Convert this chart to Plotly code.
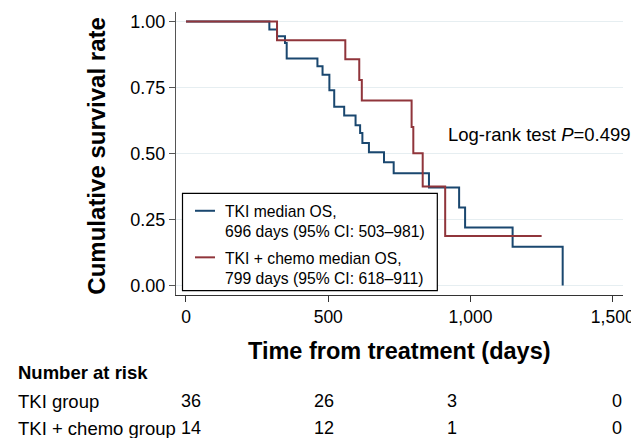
import plotly.graph_objects as go

# Kaplan-Meier step data
tki_days = [0, 293, 320, 348, 354, 462, 480, 504, 521, 556, 596, 612, 620, 643, 696, 730, 854, 960, 981, 1148, 1324]
tki_surv = [1.0, 0.970, 0.944, 0.919, 0.860, 0.831, 0.799, 0.740, 0.677, 0.644, 0.607, 0.578, 0.540, 0.505, 0.467, 0.425, 0.371, 0.296, 0.220, 0.147, 0.0]

chemo_days = [0, 320, 560, 609, 618, 793, 799, 832, 911, 1250]
chemo_surv = [1.0, 0.929, 0.857, 0.779, 0.701, 0.601, 0.501, 0.375, 0.1875, 0.1875]

x_ticks = [0, 500, 1000, 1500]
y_ticks = [0.0, 0.25, 0.5, 0.75, 1.0]

risk_times = [0, 500, 1000, 1500]
risk_tki = [36, 26, 3, 0]
risk_chemo = [14, 12, 1, 0]
risk_xshift = [5, -4.5, -19, 4]

legend_tki = "TKI median OS,<br>696 days (95% CI: 503\u2013981)"
legend_chemo = "TKI + chemo median OS,<br>799 days (95% CI: 618\u2013911)"

BLUE = "#1a476f"
RED = "#90353b"
FONT = "Liberation Sans, Arial, sans-serif"

fig = go.Figure()
fig.add_trace(go.Scatter(x=tki_days, y=tki_surv, mode="lines", line=dict(color=BLUE, width=2, shape="hv"),
                         name="TKI", showlegend=False))
fig.add_trace(go.Scatter(x=chemo_days, y=chemo_surv, mode="lines", line=dict(color=RED, width=2, shape="hv"),
                         name="TKI + chemo", showlegend=False))

fig.update_layout(
    width=631, height=430,
    margin=dict(l=168, r=16, t=4, b=143, autoexpand=False),
    paper_bgcolor="white", plot_bgcolor="white",
    font=dict(family=FONT, color="black"),
    xaxis=dict(range=[-35.1, 1536], tickvals=x_ticks, tickformat=",d", ticks="outside", ticklen=6,
               tickcolor="#333", showline=True, linecolor="#333", linewidth=1.3, showgrid=False,
               zeroline=False, tickfont=dict(size=17.5, family=FONT, color="black")),
    yaxis=dict(range=[-0.036, 1.0363], tickvals=y_ticks, tickformat=".2f", ticks="outside", ticklen=6,
               tickcolor="#555", showline=True, linecolor="#555", linewidth=1.3, showgrid=True,
               gridcolor="#e6eef1", gridwidth=1, zeroline=False,
               tickfont=dict(size=18, family=FONT, color="black")),
)

ann = []
# axis titles
ann.append(dict(text="<b>Time from treatment (days)</b>", xref="paper", yref="paper", x=0.5, y=-0.199,
                xanchor="center", yanchor="middle", showarrow=False, font=dict(size=23.5, family=FONT)))
ann.append(dict(text="<b>Cumulative survival rate</b>", xref="paper", yref="paper", x=-0.1767, y=0.489,
                xanchor="center", yanchor="middle", textangle=-90, showarrow=False, font=dict(size=24, family=FONT)))
# log-rank
ann.append(dict(text="Log-rank test <i>P</i>=0.499", xref="paper", yref="paper", x=0.6034, y=0.5683,
                xanchor="left", yanchor="middle", showarrow=False, font=dict(size=18.5, family=FONT)))
# legend
ann.append(dict(text=legend_tki, xref="paper", yref="paper", x=0.1051, y=0.2605, xanchor="left", yanchor="middle",
                align="left", showarrow=False, font=dict(size=15.7, family=FONT)))
ann.append(dict(text=legend_chemo, xref="paper", yref="paper", x=0.1051, y=0.0935, xanchor="left", yanchor="middle",
                align="left", showarrow=False, font=dict(size=15.7, family=FONT)))
# risk table
ann.append(dict(text="<b>Number at risk</b>", xref="paper", yref="paper", x=-0.358, y=-0.2753,
                xanchor="left", yanchor="middle", showarrow=False, font=dict(size=18.5, family=FONT)))
ann.append(dict(text="TKI group", xref="paper", yref="paper", x=-0.358, y=-0.376,
                xanchor="left", yanchor="middle", showarrow=False, font=dict(size=18.5, family=FONT)))
ann.append(dict(text="TKI + chemo group", xref="paper", yref="paper", x=-0.358, y=-0.4705,
                xanchor="left", yanchor="middle", showarrow=False, font=dict(size=18.5, family=FONT)))
for t, a, b, dx in zip(risk_times, risk_tki, risk_chemo, risk_xshift):
    ann.append(dict(text=str(a), xref="x", yref="paper", x=t, y=-0.376, xshift=dx, xanchor="center",
                    yanchor="middle", showarrow=False, font=dict(size=18, family=FONT)))
    ann.append(dict(text=str(b), xref="x", yref="paper", x=t, y=-0.4705, xshift=dx, xanchor="center",
                    yanchor="middle", showarrow=False, font=dict(size=18, family=FONT)))
fig.update_layout(annotations=ann)

shapes = [
    dict(type="rect", xref="paper", yref="paper", x0=0.01454, x1=0.5846, y0=0.0152, y1=0.359,
         line=dict(color="black", width=1.2), fillcolor="white", layer="above"),
    dict(type="line", xref="paper", yref="paper", x0=0.0425, x1=0.0872, y0=0.2976, y1=0.2976,
         line=dict(color=BLUE, width=2)),
    dict(type="line", xref="paper", yref="paper", x0=0.0425, x1=0.0872, y0=0.1331, y1=0.1331,
         line=dict(color=RED, width=2)),
]
fig.update_layout(shapes=shapes)

fig.write_html("out.html")
